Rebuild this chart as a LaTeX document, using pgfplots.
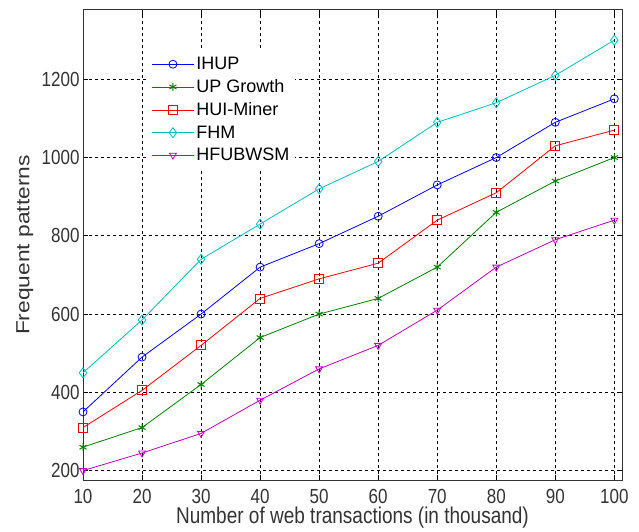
\documentclass[border=0pt]{standalone}
\usepackage{pgfplots}
\pgfplotsset{compat=1.18}
\usepackage{fontspec}
\setmainfont{Liberation Sans}
\usetikzlibrary{plotmarks}

\definecolor{mblue}{rgb}{0,0,1}
\definecolor{mgreen}{rgb}{0,0.5,0}
\definecolor{mred}{rgb}{1,0,0}
\definecolor{mcyan}{rgb}{0,0.75,0.75}
\definecolor{mmag}{rgb}{0.75,0,0.75}

\begin{document}
\begin{tikzpicture}
\begin{axis}[
    scale only axis,
    width=539pt,
    height=470pt,
    xmin=10, xmax=101.3,
    ymin=176, ymax=1377,
    xtick={10,20,...,100},
    ytick={200,400,...,1200},
    grid=major,
    major grid style={black, line width=0.7pt, dash pattern=on 3pt off 3pt},
    tick align=inside,
    major tick length=5pt,
    tick style={black, line width=0.7pt},
    axis line style={black!80, line width=1pt},
    /pgf/number format/assume math mode=true,
    /pgf/number format/1000 sep={},
    tick label style={font=\fontsize{17}{20}\selectfont, text=black!80, yscale=1.2},
    xticklabel style={yshift=-4pt},
    xlabel={Number of web transactions (in thousand)},
    ylabel={Frequent patterns},
    every axis x label/.style={at={(axis description cs:0.5,-0.081)}, anchor=center,
        font=\fontsize{19}{22}\selectfont, text=black!80, yscale=1.2},
    every axis y label/.style={at={(axis description cs:-0.108,0.5)}, rotate=90, anchor=center,
        font=\fontsize{19}{22}\selectfont, text=black!80, xscale=1.2},
    legend style={
        at={(axis cs:20.9,1272)},
        anchor=north west,
        draw=none,
        fill=white,
        font=\fontsize{18}{21}\selectfont,
        row sep=4.5pt,
        inner sep=4pt,
        cells={anchor=west},
    },
    legend image code/.code={
        \draw[mark repeat=2,mark phase=2] plot coordinates {(0pt,0pt) (21pt,0pt) (42pt,0pt)};
    },
    every axis plot/.append style={line width=0.8pt},
]

\addplot[mblue, mark=o, mark size=4pt, mark options={line width=0.8pt}] coordinates {
(10,350) (20,490) (30,600) (40,720) (50,780) (60,850) (70,930) (80,1000) (90,1090) (100,1150)};
\addplot[mgreen, mark=asterisk, mark size=4pt, mark options={line width=1pt}] coordinates {
(10,260) (20,310) (30,420) (40,540) (50,600) (60,640) (70,720) (80,860) (90,940) (100,1000)};
\addplot[mred, mark=square, mark size=4.5pt, mark options={line width=0.8pt}] coordinates {
(10,310) (20,405) (30,520) (40,640) (50,690) (60,730) (70,840) (80,910) (90,1030) (100,1070)};
\addplot[mcyan, mark=diamond, mark size=5pt, mark options={line width=0.8pt}] coordinates {
(10,450) (20,585) (30,740) (40,830) (50,920) (60,990) (70,1090) (80,1140) (90,1210) (100,1300)};
\addplot[mmag, mark=triangle, mark size=4pt, mark options={rotate=180, line width=0.8pt}] coordinates {
(10,200) (20,245) (30,295) (40,380) (50,460) (60,520) (70,610) (80,720) (90,790) (100,840)};

\legend{IHUP, UP Growth, HUI-Miner, FHM, HFUBWSM}
\end{axis}
\pgfresetboundingbox
\path (-83pt,-51pt) rectangle (556pt,480pt);
\end{tikzpicture}
\end{document}
